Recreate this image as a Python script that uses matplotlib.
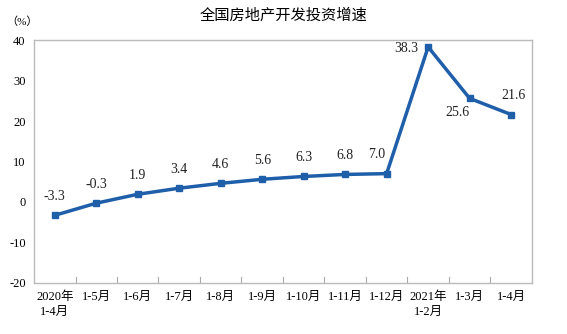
import matplotlib
matplotlib.use("Agg")
import matplotlib.pyplot as plt

categories = ["2020年\n1-4月", "1-5月", "1-6月", "1-7月", "1-8月", "1-9月", "1-10月",
              "1-11月", "1-12月", "2021年\n1-2月", "1-3月", "1-4月"]
values = [-3.3, -0.3, 1.9, 3.4, 4.6, 5.6, 6.3, 6.8, 7.0, 38.3, 25.6, 21.6]
yticks = [-20, -10, 0, 10, 20, 30, 40]
# label offsets (points) for each data label
label_offsets = [(0, 9), (0, 9), (0, 9), (0, 9), (0, 9), (0, 9), (0, 9), (0, 9), (-7, 9),
                 (-16, -6), (-9, -15), (2, 9)]

fam = ['Liberation Serif', 'Noto Sans CJK SC']
plt.rcParams['font.family'] = fam

fig = plt.figure(figsize=(5.67, 3.34), dpi=100)
ax = fig.add_axes([0.060, 0.153, 0.878, 0.727])

x = list(range(len(values)))
ax.plot(x, values, color='#1f5faa', lw=2.5, marker='s', ms=4.5, zorder=3)

for xi, v, off in zip(x, values, label_offsets):
    ax.annotate(f"{v:.1f}", (xi, v), xytext=off, textcoords='offset points',
                ha='center', va='bottom', fontsize=10, color='#222222')

ax.set_xlim(-0.5, len(values) - 0.5)
ax.set_ylim(-20, 40)
ax.set_yticks(yticks)
ax.set_yticklabels([str(t) for t in yticks], fontsize=9)
ax.tick_params(axis='y', length=0, pad=6)

ax.set_xticks(x)
ax.set_xticklabels(categories, fontsize=9, linespacing=1.3, va='top')
ax.tick_params(axis='x', length=0, pad=6)
# boundary ticks inside the bottom axis
for b in range(1, len(values)):
    ax.plot([b - 0.5, b - 0.5], [-20, -18.6], color='#aaaaaa', lw=0.8, clip_on=False)

for s in ax.spines.values():
    s.set_color('#bbbbbb')
    s.set_linewidth(1.0)

fig.text(0.5, 0.955, "全国房地产开发投资增速", ha='center', va='center',
         fontsize=11, family=['Noto Sans CJK SC'])
fig.text(0.038, 0.935, "（%）", ha='center', va='center', fontsize=8)

fig.savefig("out.png", dpi=100)
